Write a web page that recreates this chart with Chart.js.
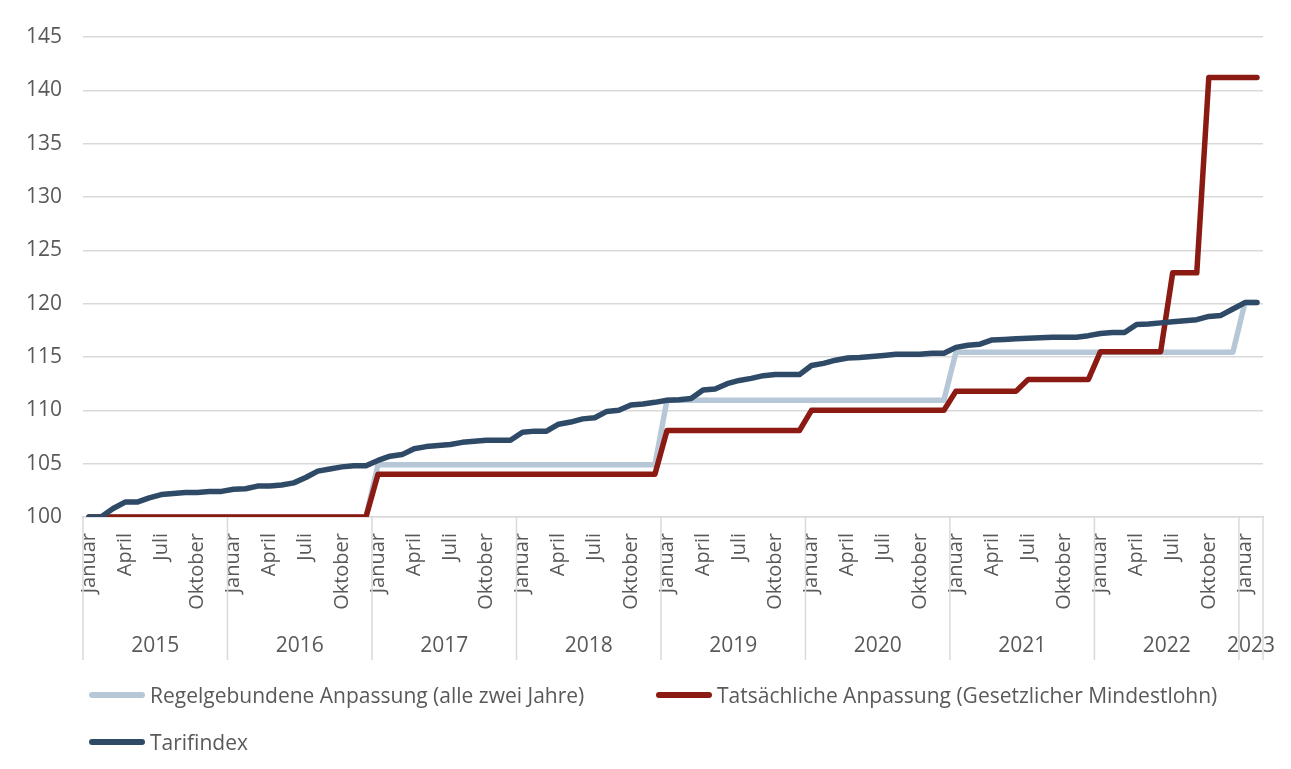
<!DOCTYPE html>
<html>
<head>
<meta charset="utf-8">
<script src="https://cdn.jsdelivr.net/npm/chart.js@4/dist/chart.umd.min.js"></script>
<style>
    html, body { margin: 0; padding: 0; background: #ffffff; }
    #wrap { position: relative; width: 1291px; height: 769px; }
    #legend { position: absolute; left: 0; top: 0; width: 100%; height: 100%; pointer-events: none;
        font-family: "Open Sans", sans-serif; font-size: 21px; color: #595959; }
    .lg-item { position: absolute; display: flex; align-items: center; white-space: nowrap; }
    .lg-swatch { width: 56px; height: 6px; border-radius: 3px; margin-right: 5px; }
</style>
</head>
<body>
<div id="wrap">
    <canvas id="chart"></canvas>
    <div id="legend"></div>
</div>
<script>
// Categories
const years = ['2015', '2016', '2017', '2018', '2019', '2020', '2021', '2022', '2023'];
const monthsPerYear = [12, 12, 12, 12, 12, 12, 12, 12, 2];
const monthNames = ['Januar', 'Februar', 'März', 'April', 'Mai', 'Juni',
    'Juli', 'August', 'September', 'Oktober', 'November', 'Dezember'];
const shownMonths = ['Januar', 'April', 'Juli', 'Oktober'];

// Y axis ticks
const yMin = 100;
const yMax = 145;
const yStep = 5;

// Series (Jan 2015 - Feb 2023, monthly)
const regelgebunden = [
    100, 100, 100, 100, 100, 100, 100, 100, 100, 100, 100, 100,
    100, 100, 100, 100, 100, 100, 100, 100, 100, 100, 100, 100,
    104.9, 104.9, 104.9, 104.9, 104.9, 104.9, 104.9, 104.9, 104.9, 104.9, 104.9, 104.9,
    104.9, 104.9, 104.9, 104.9, 104.9, 104.9, 104.9, 104.9, 104.9, 104.9, 104.9, 104.9,
    110.95, 110.95, 110.95, 110.95, 110.95, 110.95, 110.95, 110.95, 110.95, 110.95, 110.95, 110.95,
    110.95, 110.95, 110.95, 110.95, 110.95, 110.95, 110.95, 110.95, 110.95, 110.95, 110.95, 110.95,
    115.45, 115.45, 115.45, 115.45, 115.45, 115.45, 115.45, 115.45, 115.45, 115.45, 115.45, 115.45,
    115.45, 115.45, 115.45, 115.45, 115.45, 115.45, 115.45, 115.45, 115.45, 115.45, 115.45, 115.45,
    120.1, 120.1
];
const tatsaechlich = [
    100, 100, 100, 100, 100, 100, 100, 100, 100, 100, 100, 100,
    100, 100, 100, 100, 100, 100, 100, 100, 100, 100, 100, 100,
    104.0, 104.0, 104.0, 104.0, 104.0, 104.0, 104.0, 104.0, 104.0, 104.0, 104.0, 104.0,
    104.0, 104.0, 104.0, 104.0, 104.0, 104.0, 104.0, 104.0, 104.0, 104.0, 104.0, 104.0,
    108.1, 108.1, 108.1, 108.1, 108.1, 108.1, 108.1, 108.1, 108.1, 108.1, 108.1, 108.1,
    110.0, 110.0, 110.0, 110.0, 110.0, 110.0, 110.0, 110.0, 110.0, 110.0, 110.0, 110.0,
    111.8, 111.8, 111.8, 111.8, 111.8, 111.8, 112.9, 112.9, 112.9, 112.9, 112.9, 112.9,
    115.5, 115.5, 115.5, 115.5, 115.5, 115.5, 122.9, 122.9, 122.9, 141.2, 141.2, 141.2,
    141.2, 141.2
];
const tarifindex = [
    100.0, 100.0, 100.8, 101.4, 101.4, 101.8, 102.1, 102.2, 102.3, 102.3, 102.4, 102.4,
    102.6, 102.65, 102.9, 102.9, 103.0, 103.2, 103.7, 104.3, 104.5, 104.7, 104.8, 104.8,
    105.3, 105.7, 105.85, 106.4, 106.6, 106.7, 106.8, 107.0, 107.1, 107.2, 107.2, 107.2,
    107.95, 108.05, 108.05, 108.7, 108.9, 109.2, 109.3, 109.9, 110.0, 110.5, 110.6, 110.75,
    110.95, 111.0, 111.1, 111.9, 112.0, 112.5, 112.8, 113.0, 113.25, 113.35, 113.35, 113.35,
    114.2, 114.4, 114.7, 114.9, 114.95, 115.05, 115.15, 115.25, 115.25, 115.25, 115.35, 115.35,
    115.9, 116.1, 116.2, 116.6, 116.65, 116.7, 116.75, 116.8, 116.85, 116.85, 116.85, 117.0,
    117.2, 117.3, 117.3, 118.05, 118.1, 118.2, 118.3, 118.4, 118.5, 118.8, 118.9, 119.5,
    120.1, 120.1
];

const seriesLabels = [
    'Regelgebundene Anpassung (alle zwei Jahre)',
    'Tatsächliche Anpassung (Gesetzlicher Mindestlohn)',
    'Tarifindex'
];
const seriesColors = ['#b6c8d7', '#8b1a13', '#2e4a67'];

document.addEventListener('DOMContentLoaded', function() {
    const FONT = '"Open Sans", sans-serif';
    const TEXT = '#595959';
    const GRID = '#d9d9d9';

    // Month labels for each category
    const labels = [];
    years.forEach((y, yi) => {
        for (let m = 0; m < monthsPerYear[yi]; m++) {
            labels.push(monthNames[m]);
        }
    });

    // Year group labels and separators below the month ticks
    const yearGroups = {
        id: 'yearGroups',
        afterDraw(chart) {
            const xs = chart.scales.x;
            const ctx = chart.ctx;
            const half = (xs.getPixelForValue(1) - xs.getPixelForValue(0)) / 2;
            const top = chart.chartArea.bottom;
            const bottom = 660;
            ctx.save();
            ctx.strokeStyle = GRID;
            ctx.lineWidth = 1.5;
            ctx.fillStyle = TEXT;
            ctx.font = '21px ' + FONT;
            ctx.textAlign = 'center';
            ctx.textBaseline = 'middle';
            let start = 0;
            years.forEach((y, yi) => {
                const end = start + monthsPerYear[yi] - 1;
                const left = xs.getPixelForValue(start) - half;
                const right = xs.getPixelForValue(end) + half;
                ctx.beginPath();
                ctx.moveTo(left, top);
                ctx.lineTo(left, bottom);
                ctx.stroke();
                if (yi === years.length - 1) {
                    ctx.beginPath();
                    ctx.moveTo(right, top);
                    ctx.lineTo(right, bottom);
                    ctx.stroke();
                }
                ctx.fillText(y, (left + right) / 2, 646);
                start = end + 1;
            });
            ctx.restore();
        }
    };

    const chart = new Chart(document.getElementById('chart'), {
        type: 'line',
        data: {
            labels: labels,
            datasets: [{
                label: seriesLabels[0],
                data: regelgebunden,
                borderColor: seriesColors[0],
                backgroundColor: seriesColors[0],
                order: 3
            }, {
                label: seriesLabels[1],
                data: tatsaechlich,
                borderColor: seriesColors[1],
                backgroundColor: seriesColors[1],
                order: 2
            }, {
                label: seriesLabels[2],
                data: tarifindex,
                borderColor: seriesColors[2],
                backgroundColor: seriesColors[2],
                order: 1
            }]
        },
        options: {
            responsive: true,
            maintainAspectRatio: false,
            animation: false,
            layout: {
                padding: { left: 0, right: 28, top: 37, bottom: 0 }
            },
            elements: {
                line: {
                    borderWidth: 5.5,
                    tension: 0,
                    borderJoinStyle: 'round',
                    borderCapStyle: 'round'
                },
                point: { radius: 0, hoverRadius: 0 }
            },
            scales: {
                x: {
                    type: 'category',
                    offset: true,
                    grid: { display: false, drawTicks: false },
                    border: { display: true, color: GRID, width: 1.5 },
                    afterFit: (scale) => {
                        scale.height = 252;
                        scale.paddingLeft = 0;
                        scale.paddingRight = 0;
                    },
                    ticks: {
                        autoSkip: false,
                        minRotation: 90,
                        maxRotation: 90,
                        padding: 16,
                        color: TEXT,
                        font: { family: FONT, size: 20 },
                        callback: function(value) {
                            const name = this.getLabelForValue(value);
                            return shownMonths.includes(name) ? name : '';
                        }
                    }
                },
                y: {
                    min: yMin,
                    max: yMax,
                    grid: { color: GRID, lineWidth: 1.5, drawTicks: false },
                    border: { display: false },
                    afterFit: (scale) => { scale.width = 83; },
                    ticks: {
                        stepSize: yStep,
                        padding: 21,
                        color: TEXT,
                        font: { family: FONT, size: 21 }
                    }
                }
            },
            plugins: {
                legend: { display: false },
                tooltip: { enabled: false }
            }
        },
        plugins: [yearGroups]
    });

    // HTML legend built from the datasets
    const legendPos = [
        { left: 89, top: 695 },
        { left: 656, top: 695 },
        { left: 89, top: 742 }
    ];
    const legend = document.getElementById('legend');
    chart.data.datasets.forEach((ds, i) => {
        const item = document.createElement('div');
        item.className = 'lg-item';
        item.style.left = legendPos[i].left + 'px';
        item.style.top = (legendPos[i].top - 14) + 'px';
        item.style.height = '28px';
        const sw = document.createElement('span');
        sw.className = 'lg-swatch';
        sw.style.background = ds.borderColor;
        const txt = document.createElement('span');
        txt.textContent = ds.label;
        item.appendChild(sw);
        item.appendChild(txt);
        legend.appendChild(item);
    });
});
</script>
</body>
</html>
